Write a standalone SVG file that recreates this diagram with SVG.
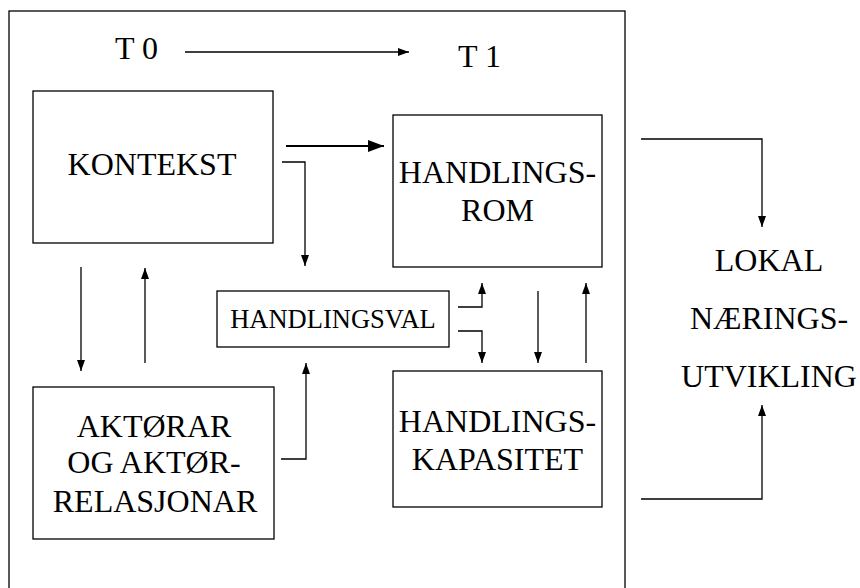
<svg xmlns="http://www.w3.org/2000/svg" width="860" height="588" viewBox="0 0 860 588">
<defs>
<marker id="a" markerUnits="userSpaceOnUse" markerWidth="11" markerHeight="8" refX="11" refY="4" orient="auto"><path d="M0,0L11,4L0,8z" fill="#000"/></marker>
<marker id="b" markerUnits="userSpaceOnUse" markerWidth="16" markerHeight="12" refX="16" refY="6" orient="auto"><path d="M0,0L16,6L0,12z" fill="#000"/></marker>
</defs>
<rect width="860" height="588" fill="#fff"/>
<rect id="frame" x="9" y="11" width="616" height="600" fill="none" stroke="#000" stroke-width="1.3"/>
<g id="t0"><text x="115" y="59" font-family="Liberation Serif" font-size="32">T 0</text></g>
<g id="t1"><text x="458" y="67" font-family="Liberation Serif" font-size="32">T 1</text></g>
<g id="kontekst"><rect x="33" y="91" width="240" height="152" fill="#fff" stroke="#000" stroke-width="1.3"/><text x="152" y="175" font-family="Liberation Serif" font-size="32" text-anchor="middle">KONTEKST</text></g>
<g id="handlingsrom"><rect x="393" y="115" width="209" height="152" fill="#fff" stroke="#000" stroke-width="1.3"/><text x="497.5" y="183" font-family="Liberation Serif" font-size="32" text-anchor="middle">HANDLINGS-</text><text x="497.5" y="221" font-family="Liberation Serif" font-size="32" text-anchor="middle">ROM</text></g>
<g id="handlingsval"><rect x="217" y="291" width="232" height="56" fill="#fff" stroke="#000" stroke-width="1.3"/><text x="333" y="328" font-family="Liberation Serif" font-size="26.5" text-anchor="middle">HANDLINGSVAL</text></g>
<g id="aktorar"><rect x="33" y="387" width="241" height="152" fill="#fff" stroke="#000" stroke-width="1.3"/><text x="154" y="437" font-family="Liberation Serif" font-size="32" text-anchor="middle">AKT&#216;RAR</text><text x="154" y="473" font-family="Liberation Serif" font-size="32" text-anchor="middle">OG AKT&#216;R-</text><text x="155" y="512" font-family="Liberation Serif" font-size="32" text-anchor="middle">RELASJONAR</text></g>
<g id="handlingskapasitet"><rect x="393" y="371" width="209" height="136" fill="#fff" stroke="#000" stroke-width="1.3"/><text x="497.5" y="432" font-family="Liberation Serif" font-size="32" text-anchor="middle">HANDLINGS-</text><text x="497.5" y="470" font-family="Liberation Serif" font-size="32" text-anchor="middle">KAPASITET</text></g>
<g id="lokal"><text x="769" y="271" font-family="Liberation Serif" font-size="32" text-anchor="middle">LOKAL</text><text x="769" y="329" font-family="Liberation Serif" font-size="32" text-anchor="middle">N&#198;RINGS-</text><text x="769" y="387" font-family="Liberation Serif" font-size="32" text-anchor="middle">UTVIKLING</text></g>
<g id="connectors" fill="none" stroke="#000" stroke-width="1.3" marker-end="url(#a)">
<path d="M185,52H409"/>
<path d="M286,146H384" stroke-width="2.2" marker-end="url(#b)"/>
<path d="M282,162H305V266"/>
<path d="M81,267V371"/>
<path d="M145,363V268"/>
<path d="M281,459H306V363"/>
<path d="M458,307H482V283"/>
<path d="M458,331H482V363"/>
<path d="M538,291V363"/>
<path d="M586,363V283"/>
<path d="M641,139H762V227"/>
<path d="M641,499H762V405"/>
</g>
</svg>
